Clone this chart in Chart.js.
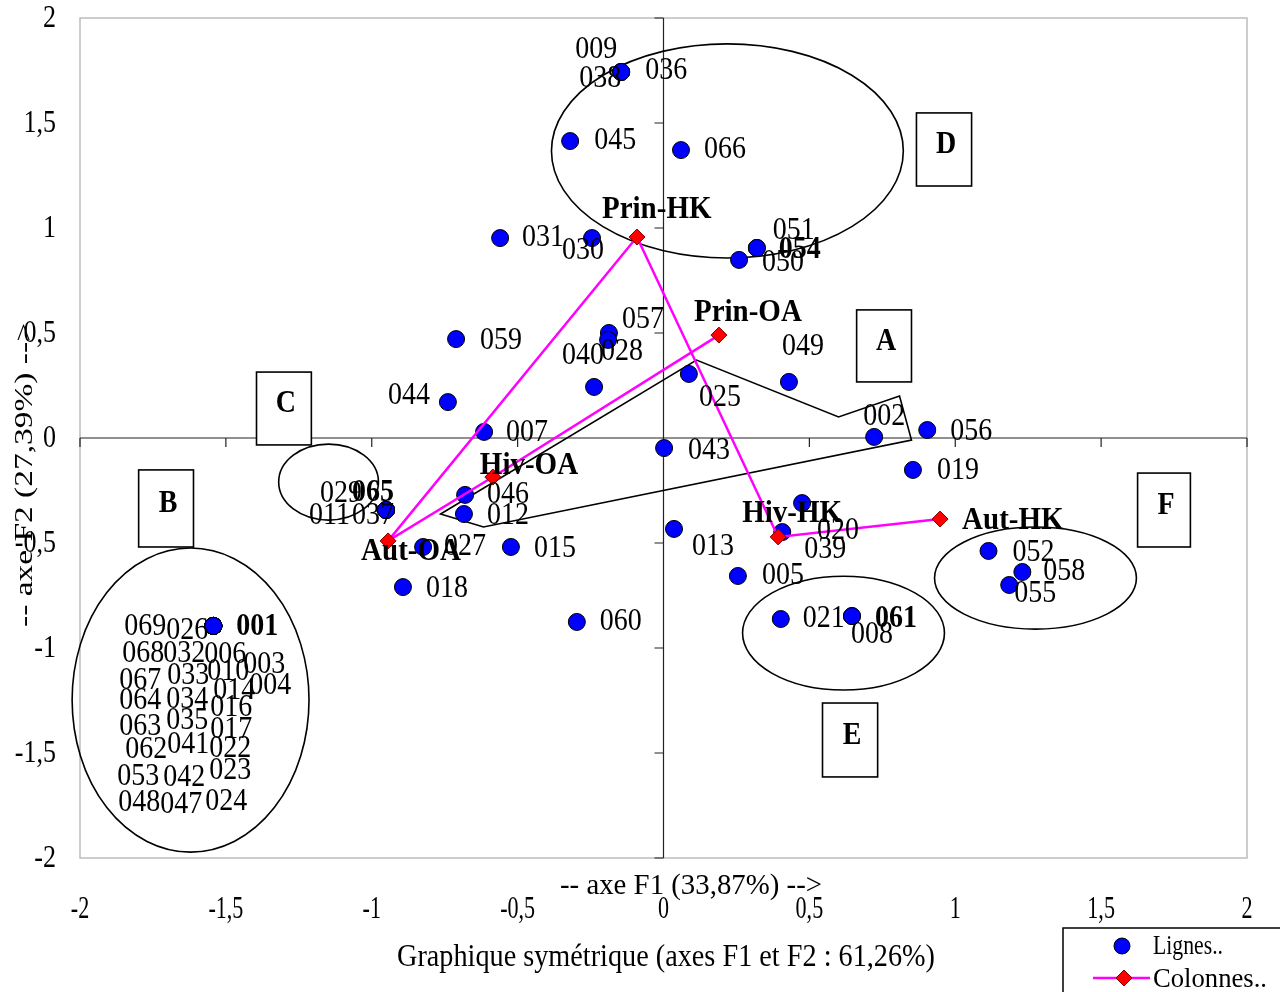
<!DOCTYPE html>
<html>
<head>
<meta charset="utf-8">
<script src="https://cdn.jsdelivr.net/npm/chart.js@4.4.1/dist/chart.umd.min.js"></script>
<style>
  html, body { margin: 0; padding: 0; background: #fff; }
  canvas { display: block; }
</style>
</head>
<body>
<canvas id="myChart" width="1280" height="992"></canvas>
<script>
// --- data ---
const rowLabels = ['009','038','036','045','066','031','030','051','054','050',
  '057','028','040','059','044','007','025','049','002','056',
  '043','019','046','012','029','065','011','037','027','015',
  '018','060','013','020','039','005','021','061','008','052','058','055',
  '069','026','001','068','032','006','003','067','033','010','014','004',
  '064','034','016','063','035','017','062','041','022','053','042','023',
  '048','047','024'];
const rowF1 = [-0.145,-0.145,-0.145,-0.320,0.060,-0.560,-0.245,0.320,0.320,0.259,
  -0.187,-0.190,-0.238,-0.711,-0.739,-0.615,0.087,0.430,0.722,0.904,
  0.002,0.855,-0.680,-0.684,-0.951,-0.951,-0.951,-0.951,-0.824,-0.523,
  -0.893,-0.297,0.036,0.475,0.407,0.255,0.402,0.646,0.646,1.114,1.230,1.185,
  -1.543,-1.543,-1.543,-1.543,-1.543,-1.543,-1.543,-1.543,-1.543,-1.543,-1.543,-1.543,
  -1.543,-1.543,-1.543,-1.543,-1.543,-1.543,-1.543,-1.543,-1.543,-1.543,-1.543,-1.543,
  -1.543,-1.543,-1.543];
const rowF2 = [1.743,1.743,1.743,1.414,1.371,0.952,0.952,0.905,0.905,0.848,
  0.500,0.467,0.243,0.471,0.171,0.029,0.305,0.267,0.005,0.038,
  -0.048,-0.152,-0.271,-0.362,-0.343,-0.343,-0.343,-0.343,-0.519,-0.519,
  -0.710,-0.876,-0.433,-0.310,-0.448,-0.657,-0.862,-0.848,-0.848,-0.538,-0.638,-0.700,
  -0.895,-0.895,-0.895,-0.895,-0.895,-0.895,-0.895,-0.895,-0.895,-0.895,-0.895,-0.895,
  -0.895,-0.895,-0.895,-0.895,-0.895,-0.895,-0.895,-0.895,-0.895,-0.895,-0.895,-0.895,
  -0.895,-0.895,-0.895];

const colLabels = ['Prin-OA','Hiv-OA','Aut-OA','Prin-HK','Hiv-HK','Aut-HK'];
const colF1 = [0.190,-0.585,-0.944,-0.091,0.393,0.948];
const colF2 = [0.490,-0.186,-0.490,0.957,-0.471,-0.386];

const tickValues = [-2,-1.5,-1,-0.5,0,0.5,1,1.5,2];
const tickLabels = ['-2','-1,5','-1','-0,5','0','0,5','1','1,5','2'];

const xTitle = '-- axe F1 (33,87%) -->';
const yTitle = '-- axe F2 (27,39%) -->';
const subTitle = 'Graphique symétrique (axes F1 et F2 : 61,26%)';

// --- annotation layout (data units) ---
const groupEllipses = [
  { cx: 0.219, cy: 1.367, rx: 0.603, ry: 0.510 },
  { cx: -1.148, cy: -0.210, rx: 0.171, ry: 0.181 },
  { cx: -1.621, cy: -1.248, rx: 0.406, ry: 0.724 },
  { cx: 0.617, cy: -0.929, rx: 0.346, ry: 0.271 },
  { cx: 1.275, cy: -0.667, rx: 0.346, ry: 0.243 }
];
const groupBoxes = [
  { t: 'D', x0: 0.867, x1: 1.056, y0: 1.548, y1: 1.200 },
  { t: 'A', x0: 0.662, x1: 0.850, y0: 0.610, y1: 0.267 },
  { t: 'C', x0: -1.395, x1: -1.207, y0: 0.314, y1: -0.033 },
  { t: 'B', x0: -1.799, x1: -1.611, y0: -0.152, y1: -0.519 },
  { t: 'F', x0: 1.625, x1: 1.806, y0: -0.167, y1: -0.519 },
  { t: 'E', x0: 0.545, x1: 0.734, y0: -1.262, y1: -1.614 }
];
const polygonA = [[-0.764,-0.362],[0.113,0.371],[0.600,0.100],[0.809,0.200],[0.850,-0.010],[-0.617,-0.424]];

// label offsets in px from the marker (left edge, middle)
const labelOffsets = {
  '009':[-46,-22],'038':[-42,7],'036':[24,-1],'045':[24,0],'066':[23,0],
  '031':[22,0],'030':[-30,13],'051':[16,-17],'054':[22,2],'050':[23,3],
  '057':[13,-13],'028':[-7,12],'040':[-32,-31],'059':[24,2],'044':[-60,-6],
  '007':[22,1],'025':[10,24],'049':[-7,-35],'002':[-11,-20],'056':[23,2],
  '043':[24,3],'019':[24,1],'046':[22,0],'012':[23,2],'029':[-66,-16],
  '065':[-34,-17],'011':[-77,6],'037':[-34,6],'027':[21,0],'015':[23,2],
  '018':[23,2],'060':[23,0],'013':[18,18],'020':[15,28],'039':[22,18],
  '005':[24,0],'021':[22,0],'061':[23,3],'008':[-1,19],'052':[24,2],
  '058':[21,0],'055':[5,9],
  '069':[-89,1],'026':[-47,5],'001':[23,1],'068':[-91,28],'032':[-50,28],
  '006':[-9,29],'003':[30,39],'067':[-94,55],'033':[-46,50],'010':[-6,46],
  '014':[0,65],'004':[36,60],'064':[-94,75],'034':[-47,74],'016':[-3,82],
  '063':[-94,101],'035':[-47,95],'017':[-3,104],'062':[-88,124],'041':[-46,119],
  '022':[-4,123],'053':[-96,151],'042':[-50,152],'023':[-4,145],'048':[-95,177],
  '047':[-53,179],'024':[-8,176]
};
const boldLabels = ['054','065','061','001'];
const colOffsets = {
  'Prin-HK':[-35,-27],'Prin-OA':[-25,-22],'Hiv-OA':[-13,-11],
  'Aut-OA':[-27,11],'Hiv-HK':[-36,-23],'Aut-HK':[22,2]
};

const SERIF = '"Liberation Serif", "Times New Roman", serif';

function drawText(ctx, s, x, y, font, opt) {
  opt = opt || {};
  ctx.save();
  ctx.font = font;
  ctx.fillStyle = opt.color || '#000';
  let sx = opt.sx || 1;
  if (opt.width) sx = opt.width / ctx.measureText(s).width;
  ctx.translate(x, y);
  if (opt.rot) ctx.rotate(opt.rot);
  ctx.scale(sx, opt.sy || 1);
  ctx.textAlign = opt.align || 'left';
  ctx.textBaseline = 'middle';
  ctx.fillText(s, 0, 0);
  ctx.restore();
}

const decorPlugin = {
  id: 'decor',
  beforeDatasetsDraw(chart) {
    const ctx = chart.ctx;
    const xs = chart.scales.x, ys = chart.scales.y;
    const a = chart.chartArea;
    ctx.save();
    // plot border
    ctx.strokeStyle = '#bdbdbd';
    ctx.lineWidth = 1.5;
    ctx.strokeRect(a.left, a.top, a.right - a.left, a.bottom - a.top);
    // zero axes
    const x0 = xs.getPixelForValue(0), y0 = ys.getPixelForValue(0);
    ctx.strokeStyle = '#222';
    ctx.lineWidth = 1.2;
    ctx.beginPath();
    ctx.moveTo(a.left, y0); ctx.lineTo(a.right, y0);
    ctx.moveTo(x0, a.top); ctx.lineTo(x0, a.bottom);
    tickValues.forEach(v => {
      const px = xs.getPixelForValue(v), py = ys.getPixelForValue(v);
      ctx.moveTo(px, y0); ctx.lineTo(px, y0 + 9);
      ctx.moveTo(x0 - 9, py); ctx.lineTo(x0, py);
    });
    ctx.stroke();
    // annotations
    ctx.strokeStyle = '#000';
    ctx.lineWidth = 1.6;
    groupEllipses.forEach(e => {
      const cx = xs.getPixelForValue(e.cx), cy = ys.getPixelForValue(e.cy);
      const rx = Math.abs(xs.getPixelForValue(e.cx + e.rx) - cx);
      const ry = Math.abs(ys.getPixelForValue(e.cy + e.ry) - cy);
      ctx.beginPath();
      ctx.ellipse(cx, cy, rx, ry, 0, 0, Math.PI * 2);
      ctx.stroke();
    });
    ctx.beginPath();
    polygonA.forEach((p, i) => {
      const px = xs.getPixelForValue(p[0]), py = ys.getPixelForValue(p[1]);
      if (i === 0) ctx.moveTo(px, py); else ctx.lineTo(px, py);
    });
    ctx.closePath();
    ctx.stroke();
    groupBoxes.forEach(b => {
      const l = xs.getPixelForValue(b.x0), r = xs.getPixelForValue(b.x1);
      const t = ys.getPixelForValue(b.y0), bt = ys.getPixelForValue(b.y1);
      ctx.fillStyle = '#fff';
      ctx.fillRect(l, t, r - l, bt - t);
      ctx.strokeRect(l, t, r - l, bt - t);
      drawText(ctx, b.t, (l + r) / 2 + 2, (t + bt) / 2 - 4, 'bold 28px ' + SERIF, { align: 'center', sy: 1.1 });
    });
    ctx.restore();
  },
  afterDatasetsDraw(chart) {
    const ctx = chart.ctx;
    const xs = chart.scales.x, ys = chart.scales.y;
    // row labels
    rowLabels.forEach((lab, i) => {
      const px = xs.getPixelForValue(rowF1[i]), py = ys.getPixelForValue(rowF2[i]);
      const off = labelOffsets[lab] || [22, 0];
      const bold = boldLabels.includes(lab);
      drawText(ctx, lab, px + off[0], py + off[1], (bold ? 'bold ' : '') + '28px ' + SERIF, { sy: 1.1 });
    });
    // column labels
    colLabels.forEach((lab, i) => {
      const px = xs.getPixelForValue(colF1[i]), py = ys.getPixelForValue(colF2[i]);
      const off = colOffsets[lab];
      drawText(ctx, lab, px + off[0], py + off[1], 'bold 29px ' + SERIF, { sy: 1.08 });
    });
    // tick labels
    tickValues.forEach((v, i) => {
      drawText(ctx, tickLabels[i], 56, ys.getPixelForValue(v), '26px ' + SERIF, { align: 'right', sy: 1.25 });
      drawText(ctx, tickLabels[i], xs.getPixelForValue(v), 909, '26px ' + SERIF, { align: 'center', sx: 0.85, sy: 1.25 });
    });
    // axis titles
    drawText(ctx, xTitle, 691, 886, '26px ' + SERIF, { align: 'center', width: 262, sy: 1.1 });
    drawText(ctx, yTitle, 25, 475, '26px ' + SERIF, { align: 'center', width: 304, rot: -Math.PI / 2, sy: 1.0 });
    drawText(ctx, subTitle, 666, 958, '27px ' + SERIF, { align: 'center', width: 538, sy: 1.15 });
    // legend
    ctx.save();
    ctx.fillStyle = '#fff';
    ctx.fillRect(1063, 928, 230, 80);
    ctx.strokeStyle = '#000';
    ctx.lineWidth = 1.5;
    ctx.strokeRect(1063, 928, 230, 80);
    ctx.beginPath();
    ctx.arc(1122, 946, 8, 0, Math.PI * 2);
    ctx.fillStyle = '#0000ff';
    ctx.fill();
    ctx.lineWidth = 1;
    ctx.stroke();
    ctx.strokeStyle = '#ff00ff';
    ctx.lineWidth = 2.5;
    ctx.beginPath();
    ctx.moveTo(1093, 978); ctx.lineTo(1150, 978);
    ctx.stroke();
    ctx.beginPath();
    ctx.moveTo(1124, 970); ctx.lineTo(1132, 978); ctx.lineTo(1124, 986); ctx.lineTo(1116, 978);
    ctx.closePath();
    ctx.fillStyle = '#ff0000';
    ctx.fill();
    ctx.strokeStyle = '#800000';
    ctx.lineWidth = 1;
    ctx.stroke();
    ctx.restore();
    drawText(ctx, 'Lignes..', 1153, 947, '24px ' + SERIF, { width: 70, sy: 1.15 });
    drawText(ctx, 'Colonnes..', 1153, 980, '24px ' + SERIF, { width: 114, sy: 1.15 });
  }
};

const ctx = document.getElementById('myChart').getContext('2d');
const chart = new Chart(ctx, {
  type: 'scatter',
  data: {
    datasets: [{
      label: 'Colonnes..',
      data: colLabels.map((l, i) => ({ x: colF1[i], y: colF2[i] })),
      showLine: true,
      borderColor: '#ff00ff',
      borderWidth: 2.5,
      tension: 0,
      fill: false,
      pointStyle: 'rectRot',
      pointRadius: 8,
      pointBackgroundColor: '#ff0000',
      pointBorderColor: '#800000',
      pointBorderWidth: 1,
      order: 1
    }, {
      label: 'Lignes..',
      data: rowLabels.map((l, i) => ({ x: rowF1[i], y: rowF2[i] })),
      showLine: false,
      pointRadius: 8.5,
      backgroundColor: '#0000ff',
      borderColor: '#000',
      borderWidth: 1,
      order: 2
    }]
  },
  options: {
    responsive: false,
    animation: false,
    devicePixelRatio: 1,
    layout: { padding: { left: 80, right: 33, top: 18, bottom: 134 } },
    scales: {
      x: { type: 'linear', min: -2, max: 2, display: false },
      y: { type: 'linear', min: -2, max: 2, display: false }
    },
    plugins: { legend: { display: false }, tooltip: { enabled: false } }
  },
  plugins: [decorPlugin]
});
</script>
</body>
</html>
